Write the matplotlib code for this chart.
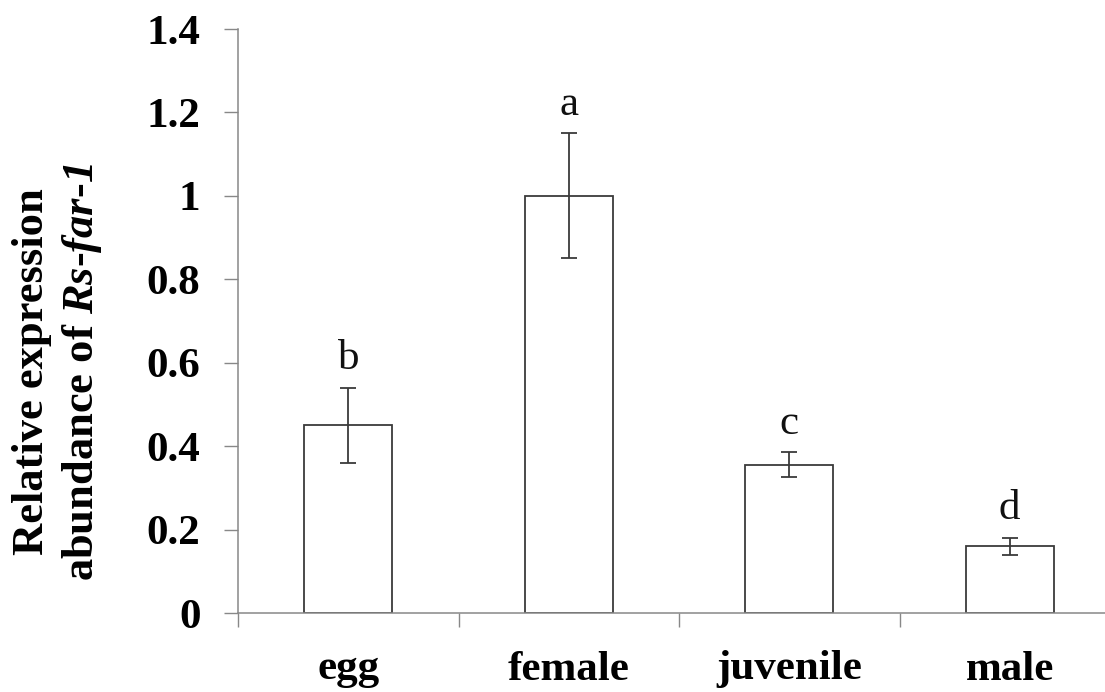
import numpy as np
import matplotlib
matplotlib.use('Agg')
import matplotlib.pyplot as plt
from matplotlib.ticker import FuncFormatter, FixedLocator

plt.rcParams['font.family'] = ['Liberation Serif', 'DejaVu Serif']
plt.rcParams['mathtext.fontset'] = 'custom'
plt.rcParams['mathtext.rm'] = 'Liberation Serif:bold'
plt.rcParams['mathtext.it'] = 'Liberation Serif:italic:bold'
plt.rcParams['mathtext.bf'] = 'Liberation Serif:bold'
# 'it' 会把数字改用正体，这里借用 sf 槽位放粗斜体
plt.rcParams['mathtext.sf'] = 'Liberation Serif:italic:bold'

# 数据
stages = ['egg', 'female', 'juvenile', 'male']
expression = [0.45, 1.00, 0.355, 0.16]
errors = [0.09, 0.15, 0.03, 0.02]
letters = ['b', 'a', 'c', 'd']

fig = plt.figure(figsize=(11.05, 6.92), dpi=100)
ax = fig.add_axes([238 / 1105, 1 - 613 / 692, 882 / 1105, 584 / 692])

x = np.arange(len(stages)) + 0.5
ax.bar(x, expression, width=0.4, color='white', edgecolor='#3a3a3a',
       linewidth=1.3, zorder=2)
ax.errorbar(x, expression, yerr=errors, fmt='none', ecolor='#3a3a3a',
            elinewidth=1.3, capsize=5.5, capthick=1.3, zorder=3)

for xi, yi, ei, lab in zip(x, expression, errors, letters):
    ax.text(xi, yi + ei + 0.045, lab, ha='center', va='baseline',
            fontsize=31, color='#111111')

ax.set_xlim(0, len(stages))
ax.set_ylim(0, 1.4)
ax.set_yticks(np.arange(0, 1.41, 0.2))
ax.yaxis.set_major_formatter(FuncFormatter(lambda v, p: f'{v:g}'))

# 类别分隔刻度 + 居中标签
ax.xaxis.set_major_locator(FixedLocator(np.arange(len(stages) + 1)))
ax.xaxis.set_minor_locator(FixedLocator(x))
ax.set_xticklabels([])
ax.set_xticklabels(stages, minor=True)
ax.tick_params(axis='x', which='major', direction='out', length=10,
               width=1, color='#888888')
ax.tick_params(axis='x', which='minor', length=0, pad=27, labelsize=31)
for t in ax.get_xticklabels(minor=True):
    t.set_fontweight('bold')

ax.tick_params(axis='y', direction='out', length=10, width=1,
               color='#888888', pad=17, labelsize=31)
for t in ax.get_yticklabels():
    t.set_fontweight('bold')

for side in ['top', 'right']:
    ax.spines[side].set_visible(False)
for side in ['left', 'bottom']:
    ax.spines[side].set_color('#888888')
    ax.spines[side].set_linewidth(1.1)

fig.text(58 / 1105, 1 - 372 / 692,
         'Relative expression\nabundance of $\\mathsf{Rs}$\u2010$\\mathsf{far}$\u2010$\\mathsf{1}$',
         rotation=90, ha='center', va='center', fontsize=32,
         fontweight='bold', linespacing=1.25, multialignment='center')

fig.savefig('out.png', dpi=100)
